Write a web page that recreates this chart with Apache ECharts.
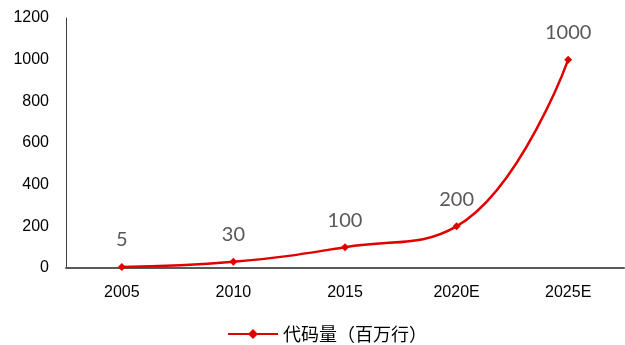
<!DOCTYPE html>
<html>
<head>
<meta charset="utf-8">
<script src="https://cdn.jsdelivr.net/npm/echarts@6/dist/echarts.min.js"></script>
<style>
  html, body { margin: 0; padding: 0; background: #fff; }
  #chart { width: 625px; height: 345px; }
</style>
</head>
<body>
<div id="chart"></div>
<script>
// Lines of code by year (millions of lines)
const years = ['2005', '2010', '2015', '2020E', '2025E'];
const linesOfCode = [5, 30, 100, 200, 1000];
const yTicks = [0, 200, 400, 600, 800, 1000, 1200];
const seriesName = '代码量（百万行）';

const chart = echarts.init(document.getElementById('chart'));
chart.setOption({
  animation: false,
  grid: { left: 66, right: 1, top: 18, bottom: 77 },
  legend: {
    top: 325,
    left: 228,
    padding: 0,
    itemWidth: 50,
    itemHeight: 10,
    itemGap: 6,
    textStyle: { fontFamily: 'Noto Sans CJK SC', fontSize: 18, color: '#000' },
    data: [{
      name: seriesName,
      // red line with a diamond marker in the middle
      icon: 'path://M0,4 L21,4 L25,0 L29,4 L50,4 L50,6 L29,6 L25,10 L21,6 L0,6 Z',
      itemStyle: { color: '#e00000' }
    }]
  },
  xAxis: {
    type: 'category',
    data: years,
    boundaryGap: true,
    axisLine: { lineStyle: { color: '#595959', width: 2 } },
    axisTick: { inside: true, length: 5, lineStyle: { color: '#404040', width: 1 } },
    axisLabel: { color: '#000', fontFamily: 'Liberation Sans', fontSize: 16, margin: 17 }
  },
  yAxis: {
    type: 'value',
    min: yTicks[0],
    max: yTicks[yTicks.length - 1],
    interval: 200,
    splitLine: { show: false },
    axisLine: { show: true, lineStyle: { color: '#404040', width: 1 } },
    axisTick: { show: false },
    axisLabel: {
      color: '#000', fontFamily: 'Liberation Sans', fontSize: 16, margin: 17,
      formatter: v => String(v)
    }
  },
  series: [{
    name: seriesName,
    type: 'line',
    data: linesOfCode,
    smooth: 0.45,
    symbol: 'diamond',
    symbolSize: 8,
    itemStyle: { color: '#e00000' },
    lineStyle: { color: '#e00000', width: 2.5 },
    label: {
      show: true,
      position: 'top',
      distance: 13,
      color: '#595959',
      fontFamily: 'Lato',
      fontSize: 20
    }
  }]
});
</script>
</body>
</html>
